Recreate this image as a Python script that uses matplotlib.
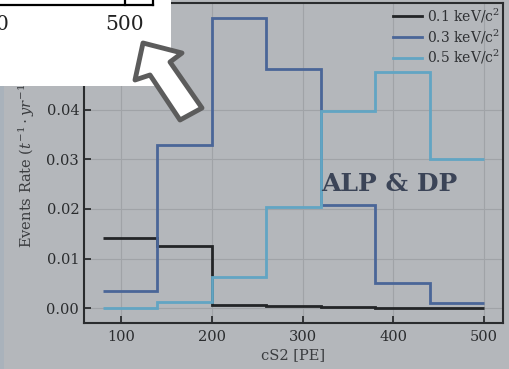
import matplotlib.pyplot as plt
from matplotlib.patches import Polygon, Rectangle
from matplotlib.lines import Line2D

# bin edges in cS2 [PE]
edges = [80, 140, 200, 260, 320, 380, 440, 500]

# event rates per bin for each mass
rate_01 = [0.0142, 0.0125, 0.0007, 0.0005, 0.0002, 0.0001, 0.00005]
rate_03 = [0.0036, 0.0329, 0.0585, 0.0481, 0.0207, 0.0051, 0.0010]
rate_05 = [0.0001, 0.0012, 0.0064, 0.0203, 0.0397, 0.0476, 0.0301]

labels = ['0.1 keV/c$^2$', '0.3 keV/c$^2$', '0.5 keV/c$^2$']
colors = ['#232527', '#4a6698', '#62a5c3']

bg = '#b4b7bb'
W, H = 510, 369

plt.rcParams['font.family'] = 'DejaVu Serif'
plt.rcParams['mathtext.fontset'] = 'dejavuserif'

fig = plt.figure(figsize=(W / 100, H / 100), dpi=100, facecolor=bg)
ax = fig.add_axes([84 / W, 1 - 322.7 / H, (503 - 84) / W, (322.7 - 3) / H])
ax.set_facecolor(bg)

for vals, lab, c in zip([rate_01, rate_03, rate_05], labels, colors):
    ax.stairs(vals, edges, baseline=None, color=c, lw=2, label=lab)

ax.set_xticks([100, 200, 300, 400, 500])
ax.set_yticks([0.0, 0.01, 0.02, 0.03, 0.04])
ax.grid(True, color='#a0a3a7', lw=0.8)
ax.set_axisbelow(True)
ax.tick_params(direction='in', length=5, width=1.3, labelsize=10.5, colors='#2a2c2e')
ax.tick_params(axis='x', pad=5)
for s in ax.spines.values():
    s.set_color('#2a2c2e')
    s.set_linewidth(1.5)

ax.set_xlabel('cS2 [PE]', fontsize=10.5, color='#3a3c3f', labelpad=3)
ax.set_ylabel(r'Events Rate ($t^{-1}\cdot yr^{-1}$)', fontsize=10.5,
              color='#3a3c3f', labelpad=7)

leg = ax.legend(loc='upper right', frameon=False, fontsize=10, labelspacing=0.18,
                handlelength=2.1, handletextpad=0.3, borderaxespad=0.0, borderpad=0.25)
for t in leg.get_texts():
    t.set_color('#2f3134')

ax.text(396, 0.0251, 'ALP & DP', fontsize=18, fontweight='bold', color='#3b4457',
        ha='center', va='center')


def px(x, y):
    return (x / W, 1 - y / H)


# light strip on the left edge
fig.patches.append(Rectangle(px(0, H), 4 / W, 1, transform=fig.transFigure,
                             facecolor='#a9b2bb', edgecolor='none', zorder=5))

# white inset cut from another figure
fig.patches.append(Rectangle(px(0, 86), 171 / W, 86 / H, transform=fig.transFigure,
                             facecolor='white', edgecolor='none', zorder=6))
for seg in [[(0, 4.5), (153, 4.5)], [(125, 0), (125, 4.5)], [(153, 0), (153, 4.5)]]:
    xs = [px(*p)[0] for p in seg]
    ys = [px(*p)[1] for p in seg]
    fig.lines.append(Line2D(xs, ys, transform=fig.transFigure, color='black',
                            lw=1.6, zorder=7))
fig.text(*px(2, 24), '0', fontsize=14.5, ha='center', va='center', color='#222', zorder=7)
fig.text(*px(124.5, 24), '500', fontsize=14.5, ha='center', va='center', color='#222',
         zorder=7)

# outlined arrow
arrow_pts = [(143, 43), (182, 53), (170, 62), (202, 108), (180, 120), (150, 75), (135, 80)]
fig.patches.append(Polygon([px(*p) for p in arrow_pts], closed=True,
                           transform=fig.transFigure, facecolor='white',
                           edgecolor='#5c5c5c', lw=3.5, joinstyle='round', zorder=8))

fig.savefig('out.png', dpi=100, facecolor=bg)
